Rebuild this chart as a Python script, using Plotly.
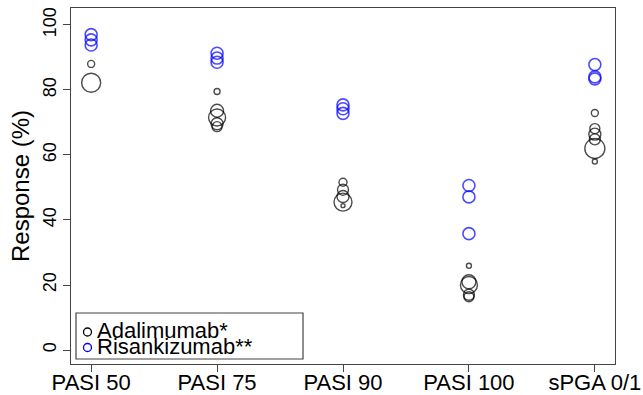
import plotly.graph_objects as go

# ---------------- data ----------------
categories = ["PASI 50", "PASI 75", "PASI 90", "PASI 100", "sPGA 0/1"]

adalimumab_values = [
    [88.0, 82.2],
    [79.5, 73.6, 71.5, 69.6, 68.7],
    [51.6, 49.3, 47.2, 45.5, 44.4],
    [25.9, 21.0, 20.0, 17.0, 16.4],
    [72.9, 68.1, 66.4, 64.8, 62.0, 58.0],
]
# relative study weights (drive circle size)
adalimumab_weights = [
    [7, 19],
    [6, 13, 17, 12, 10],
    [8, 11, 12, 18, 4],
    [5, 14, 17, 11, 10],
    [7, 10, 12, 11, 20, 5],
]

risankizumab_values = [
    [97.0, 95.4, 93.8],
    [91.3, 89.8, 88.5],
    [75.4, 74.2, 72.8],
    [50.6, 47.1, 35.8],
    [87.8, 84.0, 83.4],
]
risankizumab_weights = [
    [12, 12, 12],
    [12, 12, 12],
    [12, 12, 12],
    [12, 12, 12],
    [12, 12, 12],
]

legend_labels = ["Adalimumab*", "Risankizumab**"]

# ---------------- styling ----------------
FONT = "Liberation Sans"
BLACK = "#000000"
BLUE = "#0000ff"


def flatten(groups, weights):
    xs, ys, ss = [], [], []
    for i, (vals, ws) in enumerate(zip(groups, weights)):
        for v, w in zip(vals, ws):
            xs.append(i + 1)
            ys.append(v)
            ss.append(w)
    return xs, ys, ss


fig = go.Figure()

ax, ay, asz = flatten(adalimumab_values, adalimumab_weights)
rx, ry, rsz = flatten(risankizumab_values, risankizumab_weights)

fig.add_trace(go.Scatter(
    x=ax, y=ay, mode="markers", name=legend_labels[0],
    marker=dict(symbol="circle-open", size=asz, color=BLACK, line=dict(width=1.4)),
    showlegend=False, hoverinfo="y", cliponaxis=False,
))
fig.add_trace(go.Scatter(
    x=rx, y=ry, mode="markers", name=legend_labels[1],
    marker=dict(symbol="circle-open", size=rsz, color=BLUE, line=dict(width=1.6)),
    showlegend=False, hoverinfo="y", cliponaxis=False,
))

W, H = 643, 395
ML, MR, MT, MB = 71, 28, 8, 31
PW, PH = W - ML - MR, H - MT - MB


def px_x(p):
    return (p - ML) / PW


def px_y(p):
    return (H - MB - p) / PH


# manual legend (compact, R-style)
fig.add_shape(type="rect", xref="paper", yref="paper",
              x0=px_x(76), x1=px_x(303), y0=px_y(359), y1=px_y(313),
              line=dict(color="#444444", width=1.2), fillcolor="white")
for k, (lab, col) in enumerate(zip(legend_labels, [BLACK, BLUE])):
    cy = 332 + 15.5 * k
    fig.add_shape(type="circle", xref="paper", yref="paper",
                  x0=px_x(83.5), x1=px_x(91.5),
                  y0=px_y(cy + 4), y1=px_y(cy - 4),
                  line=dict(color=col, width=1.3))
    fig.add_annotation(xref="paper", yref="paper", x=px_x(95), y=px_y(330 + 16 * k),
                       xanchor="left", yanchor="middle", showarrow=False,
                       text=lab,
                       font=dict(family=FONT, size=22, color="black"))

fig.update_layout(
    width=W, height=H,
    margin=dict(l=ML, r=MR, t=MT, b=MB, pad=0, autoexpand=False),
    plot_bgcolor="white", paper_bgcolor="white",
    showlegend=False,
    font=dict(family=FONT, color="black"),
)
fig.update_xaxes(
    range=[0.84, 5.16],
    tickmode="array",
    tickvals=list(range(1, len(categories) + 1)),
    ticktext=categories,
    ticks="outside", ticklen=7, tickcolor="#444444",
    tickfont=dict(family=FONT, size=22),
    ticklabelstandoff=-9,
    showline=True, linecolor="#444444", linewidth=1.2, mirror=True,
    showgrid=False, zeroline=False, automargin=False,
)
fig.update_yaxes(
    range=[-4.3, 105.2],
    tickmode="array",
    tickvals=[0, 20, 40, 60, 80, 100],
    ticks="outside", ticklen=7, tickcolor="#444444",
    tickangle=-90,
    tickfont=dict(family=FONT, size=18),
    title=dict(text="Response (%)", font=dict(family=FONT, size=24), standoff=3),
    showline=True, linecolor="#444444", linewidth=1.2, mirror=True,
    showgrid=False, zeroline=False, automargin=False,
)

fig.write_html(
    "out.html",
    config={"displayModeBar": False},
    post_script="document.body.style.margin='0';document.body.style.overflow='hidden';",
)
